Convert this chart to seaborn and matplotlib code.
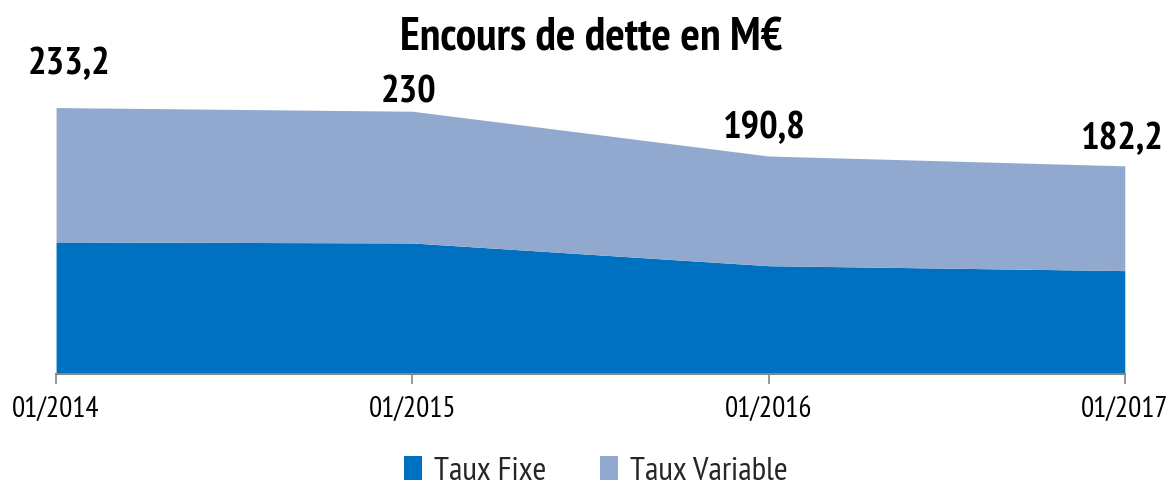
import matplotlib
matplotlib.use("Agg")
import matplotlib.pyplot as plt
import seaborn as sns
import numpy as np
from matplotlib.patches import Patch

# Data
dates = ["01/2014", "01/2015", "01/2016", "01/2017"]
totals = [233.2, 230.0, 190.8, 182.2]
taux_fixe = [115.6, 114.7, 94.8, 90.5]
taux_variable = [t - f for t, f in zip(totals, taux_fixe)]
total_labels = ["233,2", "230", "190,8", "182,2"]
series_names = ["Taux Fixe", "Taux Variable"]

sns.set_theme(style="white")
plt.rcParams['font.family'] = ['PT Sans Narrow', 'DejaVu Sans']

colors = ["#0070C0", "#92A9CF"]

fig = plt.figure(figsize=(11.68, 4.87), dpi=100)
ax = fig.add_axes([0.048, 0.232, 0.915, 0.610])

x = np.arange(len(dates))
ax.stackplot(x, taux_fixe, taux_variable, colors=colors, labels=series_names, linewidth=0)

ax.set_xlim(0, len(dates) - 1)
ax.set_ylim(0, 260)
ax.set_yticks([])
ax.set_xticks(x)
ax.set_xticklabels(dates, fontsize=21, color='black')
ax.tick_params(axis='x', direction='out', length=7, width=1.2, color="#868686", pad=9, bottom=True)
sns.despine(ax=ax, left=True, right=True, top=True)
ax.spines['bottom'].set_color("#868686")
ax.spines['bottom'].set_linewidth(1.5)

offsets = [(9, 31), (-3, 13), (-3, 20), (-2, 19)]
for xi, tot, lab, off in zip(x, totals, total_labels, offsets):
    ax.annotate(lab, xy=(xi, tot), xytext=off, textcoords='offset points',
                ha='center', va='center', fontsize=28, fontweight='bold', color='black',
                annotation_clip=False)

fig.text(0.506, 0.92, "Encours de dette en M€", ha='center', va='center',
         fontsize=33, fontweight='bold', color='black')

handles = [Patch(facecolor=c, edgecolor='none') for c in colors]
fig.legend(handles, series_names, loc='center', bbox_to_anchor=(0.51, 0.032),
           ncol=2, frameon=False, fontsize=24, handlelength=0.55, handleheight=0.7,
           handletextpad=0.35, columnspacing=1.6, borderpad=0)

fig.savefig("out.png", dpi=100)
